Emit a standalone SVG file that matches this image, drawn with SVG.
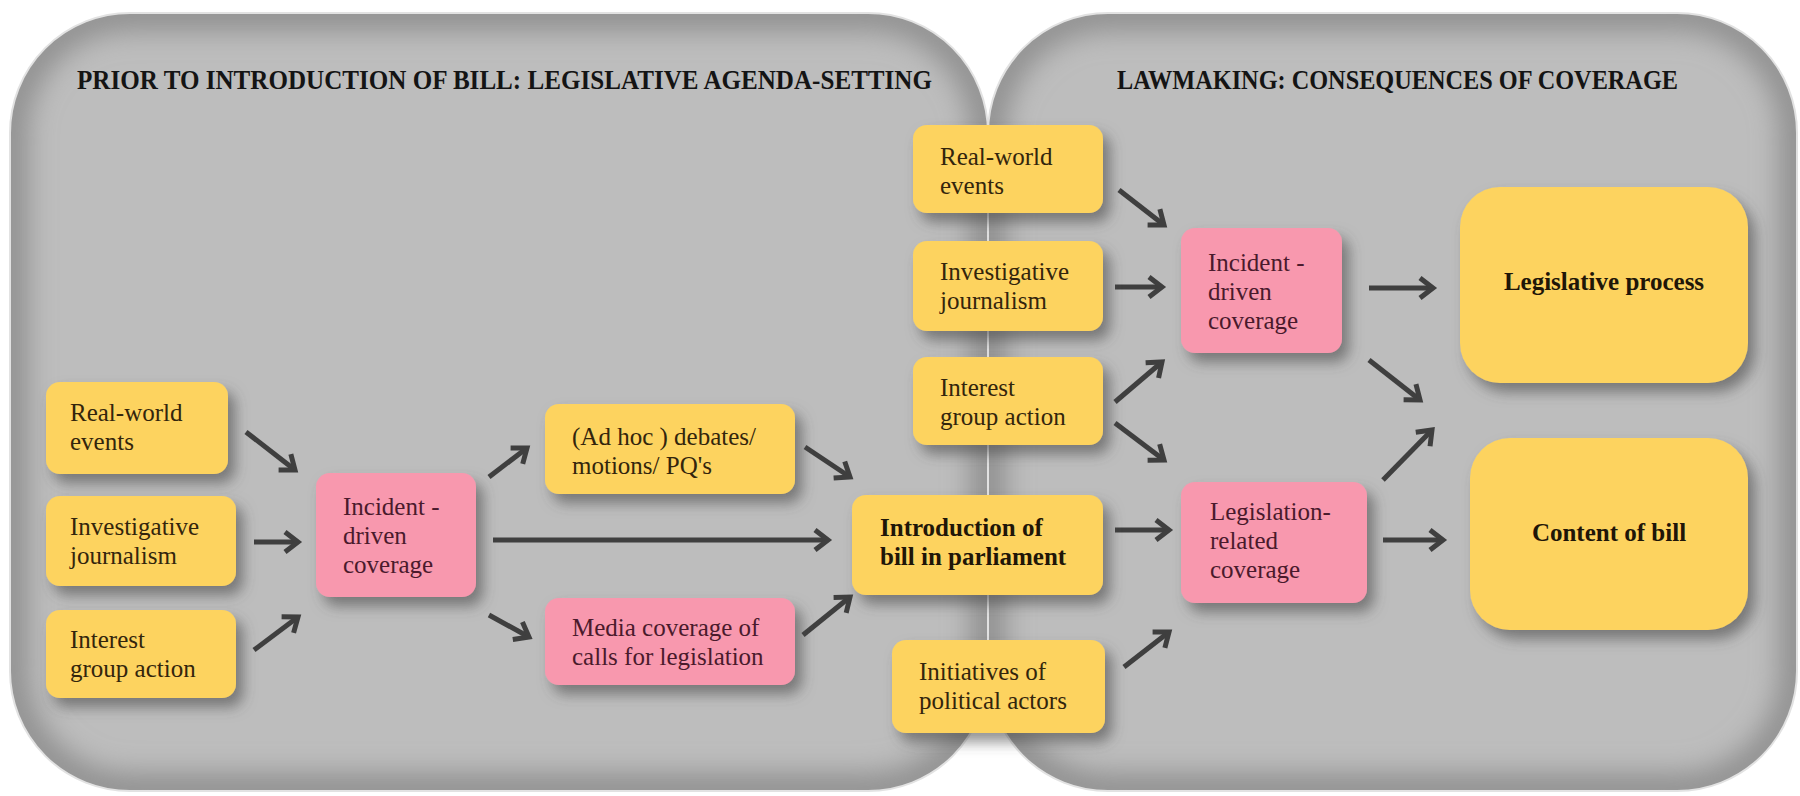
<svg xmlns="http://www.w3.org/2000/svg" width="1800" height="796" viewBox="0 0 1800 796">
<style>
.box{filter:url(#shadow)}
.y{fill:#fdd35f}
.p{fill:#f898ae}
.t{font-family:"Liberation Serif","Times New Roman",serif;font-size:25px;fill:#33250c}
.tp{font-family:"Liberation Serif","Times New Roman",serif;font-size:25px;fill:#4a1a2c}
.b{font-weight:bold;font-size:25px;fill:#1f1608}
.title{font-family:"Liberation Serif","Times New Roman",serif;font-weight:bold;font-size:28px;fill:#141414}
.arr{stroke:#3f3f3f;stroke-width:5;fill:none;marker-end:url(#ah)}
</style>
<defs>
<filter id="shadow" x="-20%" y="-20%" width="150%" height="160%">
<feDropShadow dx="7" dy="9" stdDeviation="7" flood-color="#4a4a4a" flood-opacity="0.6"/>
</filter>
<filter id="blur" x="-10%" y="-10%" width="120%" height="120%">
<feGaussianBlur stdDeviation="14"/>
</filter>
<marker id="ah" markerUnits="userSpaceOnUse" markerWidth="30" markerHeight="30" refX="0" refY="0" viewBox="-20 -15 25 30" orient="auto" overflow="visible">
<path d="M-13 -10 L0 0 L-13 10" fill="none" stroke="#3f3f3f" stroke-width="5" stroke-linejoin="miter" stroke-linecap="butt"/>
</marker>
<clipPath id="cl"><rect x="10" y="13" width="978" height="778" rx="120"/></clipPath>
<clipPath id="cr"><rect x="988" y="13" width="809" height="778" rx="120"/></clipPath>
</defs>
<rect width="1800" height="796" fill="#ffffff"/>
<g id="panel-left">
<g clip-path="url(#cl)">
<rect x="10" y="13" width="978" height="778" rx="120" fill="#bdbdbd"/>
<rect x="10" y="13" width="978" height="778" rx="120" fill="none" stroke="#8e8e8e" stroke-width="34" filter="url(#blur)"/>
</g>
<rect x="10" y="13" width="978" height="778" rx="120" fill="none" stroke="#e2e2e2" stroke-width="2"/>
<text class="title" x="77" y="89" textLength="855" lengthAdjust="spacingAndGlyphs">PRIOR TO INTRODUCTION OF BILL: LEGISLATIVE AGENDA-SETTING</text>
</g>
<g id="panel-right">
<g clip-path="url(#cr)">
<rect x="988" y="13" width="809" height="778" rx="120" fill="#bdbdbd"/>
<rect x="988" y="13" width="809" height="778" rx="120" fill="none" stroke="#8e8e8e" stroke-width="34" filter="url(#blur)"/>
</g>
<rect x="988" y="13" width="809" height="778" rx="120" fill="none" stroke="#e2e2e2" stroke-width="2"/>
<text class="title" x="1117" y="89" textLength="561" lengthAdjust="spacingAndGlyphs">LAWMAKING: CONSEQUENCES OF COVERAGE</text>
</g>
<g id="connectors">
<line class="arr" x1="246" y1="432" x2="295" y2="470"/>
<line class="arr" x1="254" y1="542" x2="298" y2="542"/>
<line class="arr" x1="254" y1="650" x2="298" y2="617"/>
<line class="arr" x1="489" y1="477" x2="527" y2="448"/>
<line class="arr" x1="489" y1="615" x2="529" y2="637"/>
<line class="arr" x1="493" y1="540" x2="828" y2="540"/>
<line class="arr" x1="805" y1="447" x2="850" y2="477"/>
<line class="arr" x1="803" y1="635" x2="850" y2="597"/>
<line class="arr" x1="1119" y1="190" x2="1164" y2="225"/>
<line class="arr" x1="1115" y1="287" x2="1162" y2="287"/>
<line class="arr" x1="1115" y1="402" x2="1162" y2="362"/>
<line class="arr" x1="1115" y1="423" x2="1164" y2="460"/>
<line class="arr" x1="1115" y1="530" x2="1169" y2="530"/>
<line class="arr" x1="1124" y1="667" x2="1169" y2="632"/>
<line class="arr" x1="1369" y1="288" x2="1433" y2="288"/>
<line class="arr" x1="1369" y1="360" x2="1420" y2="400"/>
<line class="arr" x1="1383" y1="480" x2="1432" y2="430"/>
<line class="arr" x1="1383" y1="540" x2="1443" y2="540"/>
</g>
<g id="rw1"><rect class="box y" x="46" y="382" width="182" height="92" rx="14"/><text class="t" x="70" y="421">Real-world</text><text class="t" x="70" y="450">events</text></g>
<g id="ij1"><rect class="box y" x="46" y="496" width="190" height="90" rx="14"/><text class="t" x="70" y="535">Investigative</text><text class="t" x="70" y="564">journalism</text></g>
<g id="ig1"><rect class="box y" x="46" y="610" width="190" height="88" rx="14"/><text class="t" x="70" y="648">Interest</text><text class="t" x="70" y="677">group action</text></g>
<g id="idc1"><rect class="box p" x="316" y="473" width="160" height="124" rx="14"/><text class="tp" x="343" y="515">Incident -</text><text class="tp" x="343" y="544">driven</text><text class="tp" x="343" y="573">coverage</text></g>
<g id="adhoc"><rect class="box y" x="545" y="404" width="250" height="90" rx="14"/><text class="t" x="572" y="445">(Ad hoc ) debates/</text><text class="t" x="572" y="474">motions/ PQ's</text></g>
<g id="media"><rect class="box p" x="545" y="598" width="250" height="87" rx="14"/><text class="tp" x="572" y="636">Media coverage of</text><text class="tp" x="572" y="665">calls for legislation</text></g>
<g id="intro"><rect class="box y" x="852" y="495" width="251" height="100" rx="14"/><text class="t b" x="880" y="536">Introduction of</text><text class="t b" x="880" y="565">bill in parliament</text></g>
<g id="rw2"><rect class="box y" x="913" y="125" width="190" height="88" rx="14"/><text class="t" x="940" y="165">Real-world</text><text class="t" x="940" y="194">events</text></g>
<g id="ij2"><rect class="box y" x="913" y="241" width="190" height="90" rx="14"/><text class="t" x="940" y="280">Investigative</text><text class="t" x="940" y="309">journalism</text></g>
<g id="ig2"><rect class="box y" x="913" y="357" width="190" height="88" rx="14"/><text class="t" x="940" y="396">Interest</text><text class="t" x="940" y="425">group action</text></g>
<g id="init"><rect class="box y" x="892" y="640" width="213" height="93" rx="14"/><text class="t" x="919" y="680">Initiatives of</text><text class="t" x="919" y="709">political actors</text></g>
<g id="idc2"><rect class="box p" x="1181" y="228" width="161" height="125" rx="14"/><text class="tp" x="1208" y="271">Incident -</text><text class="tp" x="1208" y="300">driven</text><text class="tp" x="1208" y="329">coverage</text></g>
<g id="lrc"><rect class="box p" x="1181" y="482" width="186" height="121" rx="14"/><text class="tp" x="1210" y="520">Legislation-</text><text class="tp" x="1210" y="549">related</text><text class="tp" x="1210" y="578">coverage</text></g>
<g id="lp"><rect class="box y" x="1460" y="187" width="288" height="196" rx="40"/><text class="t b" x="1604" y="290" text-anchor="middle">Legislative process</text></g>
<g id="cob"><rect class="box y" x="1470" y="438" width="278" height="192" rx="40"/><text class="t b" x="1609" y="541" text-anchor="middle">Content of bill</text></g>
</svg>
